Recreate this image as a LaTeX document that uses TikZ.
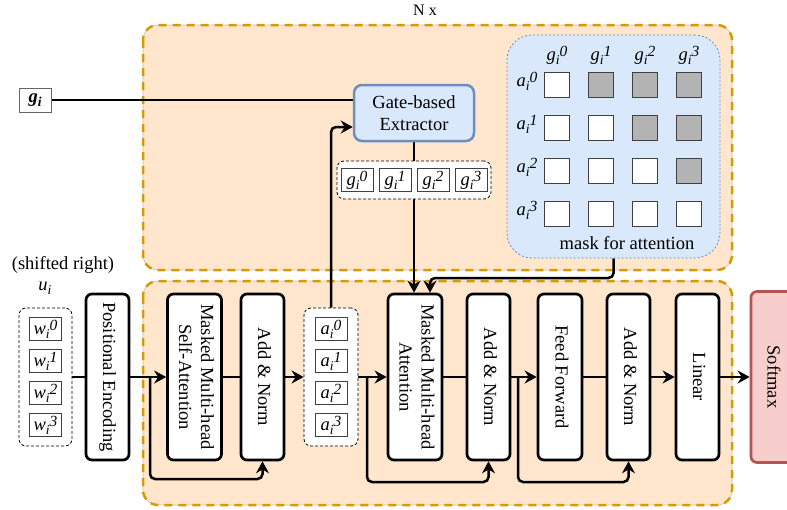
\documentclass[tikz,border=0pt]{standalone}
\usepackage{fontspec}
\setmainfont{Liberation Serif}
\usepackage{graphicx}
\usetikzlibrary{arrows.meta}

\definecolor{stackfill}{HTML}{FFE6CC}
\definecolor{stackline}{HTML}{D79B00}
\definecolor{bluefill}{HTML}{DAE8FC}
\definecolor{blueline}{HTML}{6C8EBF}
\definecolor{redfill}{HTML}{F8CECC}
\definecolor{redline}{HTML}{B85450}
\definecolor{maskgray}{HTML}{B3B3B3}

\pgfdeclarelayer{back}
\pgfdeclarelayer{edges}
\pgfsetlayers{back,edges,main}

\newcommand{\subfont}{\fontsize{13.5}{14}\selectfont}
\newcommand{\supfont}{\fontsize{15.5}{16}\selectfont}
\newcommand{\tok}[2]{{\itshape #1\raisebox{-4pt}{\subfont i}\raisebox{3.8pt}{\supfont #2}}}
\newcommand{\vtext}[1]{\rotatebox{-90}{\begin{tabular}{@{}c@{}}#1\end{tabular}}}

\begin{document}
\begin{tikzpicture}[x=1pt,y=1pt,font=\fontsize{18.5}{22}\selectfont]
  \tikzstyle{every node}+=[inner sep=0pt]
  \tikzstyle{layer}=[draw, line width=2.7pt, rounded corners=6pt, fill=white, minimum width=43pt, minimum height=166pt]
  \tikzstyle{group}=[draw, line width=0.8pt, dash pattern=on 3pt off 2pt, rounded corners=7pt, fill=white]
  \tikzstyle{token}=[draw=black!75, line width=0.9pt, fill=white, minimum width=32pt, minimum height=23pt]
  \tikzstyle{cell}=[draw=black!75, line width=1.3pt, minimum size=25pt]
  \tikzstyle{link}=[line width=2.5pt, rounded corners=5pt]
  \tikzstyle{arr}=[link, -{Stealth[length=12pt,width=13pt,inset=4pt]}]
  \tikzstyle{stack}=[fill=stackfill, draw=black!25, line width=0.6pt, rounded corners=15pt]
  \tikzstyle{stackdash}=[draw=stackline, line width=2.5pt, dash pattern=on 8pt off 6pt, rounded corners=15pt]

  \useasboundingbox (0,0) rectangle (787,-509);
  \begin{pgfonlayer}{back}
    \draw[stack] (143,-25) rectangle (732,-270);
    \draw[stackdash] (143,-25) rectangle (732,-270);
    \draw[stack] (143,-281) rectangle (732,-505);
    \draw[stackdash] (143,-281) rectangle (732,-505);
  \end{pgfonlayer}
  \node (nx) at (425,-10) {\fontsize{16}{19}\selectfont N x};

  % extractor block
  \node[token, draw=black!60, minimum height=24pt] (gi) at (35,-100) {\bfseries\itshape g\raisebox{-4pt}{\subfont i}};
  \node[draw=blueline, fill=bluefill, line width=2.5pt, rounded corners=8pt, minimum width=120pt, minimum height=56pt, align=center] (gate) at (414,-113) {Gate-based\\Extractor};
  \node[group, minimum width=154pt, minimum height=38pt] (ggroup) at (414,-180) {};
  \foreach \k/\x in {0/357,1/395,2/433,3/471}
    \node[token] (g\k) at (\x,-180) {\tok{g}{\k}};

  % attention mask
  \node[fill=bluefill, draw=blueline, line width=0.8pt, dash pattern=on 2pt off 2pt, rounded corners=25pt, minimum width=213pt, minimum height=223pt] (mask) at (613.5,-146.5) {};
  \foreach \c in {0,...,3}
    \node (mh\c) at ({557+44*\c},-55) {\tok{g}{\c}};
  \foreach \r in {0,...,3}
    \node (mr\r) at (527,{-81-43*\r}) {\tok{a}{\r}};
  \foreach \r in {0,...,3}
    \foreach \c in {0,...,3} {
      \ifnum\c>\r \def\shade{maskgray}\else\def\shade{white}\fi
      \node[cell, fill=\shade] (m\r\c) at ({557+44*\c},{-85-43*\r}) {};
    }
  \node (masklabel) at (627,-243) {mask for attention};

  % decoder stack
  \node (shift) at (63,-265) {(shifted right)};
  \node (ui) at (45,-288) {\tok{u}{}};
  \node[group, minimum width=53pt, minimum height=138pt] (wgroup) at (45.5,-377) {};
  \foreach \k in {0,...,3}
    \node[token] (w\k) at (45.5,{-329-32*\k}) {\tok{w}{\k}};
  \node[layer] (posenc) at (107.5,-377) {\vtext{Positional Encoding}};
  \node[layer, minimum width=54pt] (selfatt) at (194.5,-377) {\vtext{Masked Multi-head\\Self-Attention}};
  \node[layer] (addnorm1) at (262.5,-377) {\vtext{Add \& Norm}};
  \node[group, minimum width=54pt, minimum height=138pt] (agroup) at (331,-377) {};
  \foreach \k in {0,...,3}
    \node[token] (a\k) at (331,{-329-32*\k}) {\tok{a}{\k}};
  \node[layer, minimum width=54pt] (crossatt) at (415,-377) {\vtext{Masked Multi-head\\Attention}};
  \node[layer] (addnorm2) at (488.5,-377) {\vtext{Add \& Norm}};
  \node[layer, minimum width=44pt] (ffwd) at (560,-377) {\vtext{Feed Forward}};
  \node[layer] (addnorm3) at (628.5,-377) {\vtext{Add \& Norm}};
  \node[layer] (linear) at (697.5,-377) {\vtext{Linear}};
  \node[layer, draw=redline, fill=redfill, minimum width=42pt, minimum height=171pt] (softmax) at (772,-377) {\vtext{Softmax}};

  \coordinate (maskturn) at (613.5,-278);
  \coordinate (res1) at (150,-377);
  \coordinate (res2) at (367,-377);
  \coordinate (res3) at (518,-377);

  \begin{pgfonlayer}{edges}
    \draw[link] (gi.east) -- (gi.east -| gate.west);
    \draw[arr] (agroup.north) |- ([yshift=-14pt]gate.west);
    \draw[arr] (gate.south) -- (gate.south |- crossatt.north);
    \draw[arr] (mask.south) -- (maskturn) -| ([xshift=15pt]crossatt.north);
    \draw[link] (wgroup) -- (posenc);
    \draw[arr] (posenc) -- (selfatt);
    \draw[link] (selfatt) -- (addnorm1);
    \draw[arr] (addnorm1) -- (agroup);
    \draw[arr] (agroup) -- (crossatt);
    \draw[link] (crossatt) -- (addnorm2);
    \draw[arr] (addnorm2) -- (ffwd);
    \draw[link] (ffwd) -- (addnorm3);
    \draw[arr] (addnorm3) -- (linear);
    \draw[arr] (linear) -- (softmax);
    \draw[arr] (res1) -- ++(0,-102) -| (addnorm1.south);
    \draw[arr] (res2) -- ++(0,-105) -| (addnorm2.south);
    \draw[arr] (res3) -- ++(0,-105) -| (addnorm3.south);
  \end{pgfonlayer}
\end{tikzpicture}
\end{document}
